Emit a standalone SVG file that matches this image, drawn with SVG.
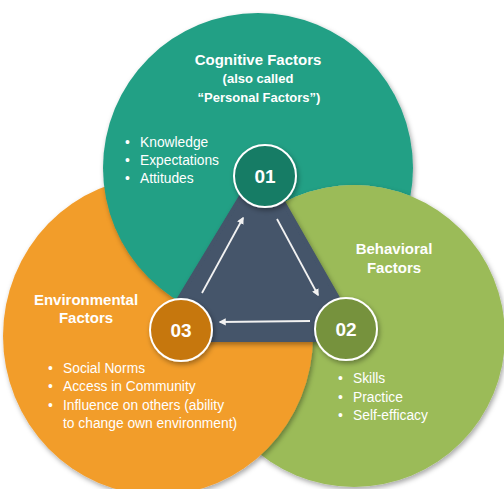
<svg xmlns="http://www.w3.org/2000/svg" width="504" height="489" viewBox="0 0 504 489">
  <defs>
    <style>
      text { font-family: "Liberation Sans", Arial, sans-serif; fill: #FFFFFF; }
      .title { font-size: 15px; font-weight: bold; }
      .sub { font-size: 13px; font-weight: bold; }
      .item { font-size: 13.8px; }
      .num { font-size: 19px; font-weight: bold; }
      .arrow { stroke: #F2F2F2; stroke-width: 1.8; fill: none; marker-end: url(#head); }
      .badge { stroke: #FFFFFF; stroke-width: 2; filter: url(#shadow); }
    </style>
    <filter id="shadow" x="-20%" y="-20%" width="140%" height="140%">
      <feDropShadow dx="1.5" dy="2.5" stdDeviation="2.5" flood-color="#000" flood-opacity="0.35"/>
    </filter>
    <marker id="head" viewBox="0 0 10 10" refX="8" refY="5" markerWidth="4" markerHeight="4" orient="auto">
      <path d="M0,0 L10,5 L0,10 z" fill="#F2F2F2"/>
    </marker>
    <!-- the three discs overlap cyclically: teal over orange, orange over green, green over teal -->
    <mask id="noGreen" maskUnits="userSpaceOnUse" x="0" y="0" width="504" height="489">
      <rect width="504" height="489" fill="#fff"/>
      <circle cx="354" cy="336" r="151" fill="#000"/>
    </mask>
    <mask id="noOrange" maskUnits="userSpaceOnUse" x="0" y="0" width="504" height="489">
      <rect width="504" height="489" fill="#fff"/>
      <ellipse cx="158" cy="336" rx="155" ry="159" fill="#000"/>
    </mask>
    <clipPath id="inTeal">
      <circle cx="258" cy="168" r="155"/>
    </clipPath>
  </defs>

  <rect width="504" height="489" fill="#FFFFFF"/>

  <g id="venn">
    <circle cx="354" cy="336" r="151" fill="#9BBB59" filter="url(#shadow)"/>
    <ellipse cx="158" cy="336" rx="155" ry="159" fill="#F29D2C" filter="url(#shadow)"/>
    <g mask="url(#noGreen)">
      <circle cx="258" cy="168" r="155" fill="#22A085" filter="url(#shadow)"/>
    </g>
    <g clip-path="url(#inTeal)">
      <g mask="url(#noOrange)">
        <circle cx="354" cy="336" r="151" fill="#9BBB59" filter="url(#shadow)"/>
      </g>
    </g>
  </g>

  <g id="core">
    <path d="M261,163 L362,340 L154,340 Z" fill="#44546A" stroke="#44546A" stroke-width="4" stroke-linejoin="round" filter="url(#shadow)"/>
  </g>

  <g id="connectors">
    <line class="arrow" x1="202" y1="293" x2="243" y2="218"/>
    <line class="arrow" x1="277" y1="219" x2="318" y2="295"/>
    <line class="arrow" x1="310" y1="321" x2="220" y2="322"/>
  </g>

  <g id="cognitive-factors">
    <text class="title" x="258" y="65" text-anchor="middle">Cognitive Factors</text>
    <text class="sub" x="258" y="83" text-anchor="middle">(also called</text>
    <text class="sub" x="259" y="102" text-anchor="middle">“Personal Factors”)</text>
    <text class="item" x="125" y="147">•</text>
    <text class="item" x="140" y="147">Knowledge</text>
    <text class="item" x="125" y="165">•</text>
    <text class="item" x="140" y="165">Expectations</text>
    <text class="item" x="125" y="183">•</text>
    <text class="item" x="140" y="183">Attitudes</text>
  </g>

  <g id="behavioral-factors">
    <text class="title" x="394" y="254" text-anchor="middle">Behavioral</text>
    <text class="title" x="394" y="273" text-anchor="middle">Factors</text>
    <text class="item" x="338" y="383">•</text>
    <text class="item" x="353" y="383">Skills</text>
    <text class="item" x="338" y="402">•</text>
    <text class="item" x="353" y="402">Practice</text>
    <text class="item" x="338" y="420">•</text>
    <text class="item" x="353" y="420">Self-efficacy</text>
  </g>

  <g id="environmental-factors">
    <text class="title" x="86" y="305" text-anchor="middle">Environmental</text>
    <text class="title" x="86" y="323" text-anchor="middle">Factors</text>
    <text class="item" x="48" y="373">•</text>
    <text class="item" x="63" y="373">Social Norms</text>
    <text class="item" x="48" y="391">•</text>
    <text class="item" x="63" y="391">Access in Community</text>
    <text class="item" x="48" y="410">•</text>
    <text class="item" x="63" y="410">Influence on others (ability</text>
    <text class="item" x="63" y="428">to change own environment)</text>
  </g>

  <g id="node-01">
    <circle class="badge" cx="265" cy="176" r="31" fill="#177B65"/>
    <text class="num" x="265" y="183" text-anchor="middle">01</text>
  </g>
  <g id="node-02">
    <circle class="badge" cx="346" cy="329" r="31" fill="#76923C"/>
    <text class="num" x="346" y="336" text-anchor="middle">02</text>
  </g>
  <g id="node-03">
    <circle class="badge" cx="181" cy="330" r="31" fill="#C6770C"/>
    <text class="num" x="181" y="337" text-anchor="middle">03</text>
  </g>
</svg>
